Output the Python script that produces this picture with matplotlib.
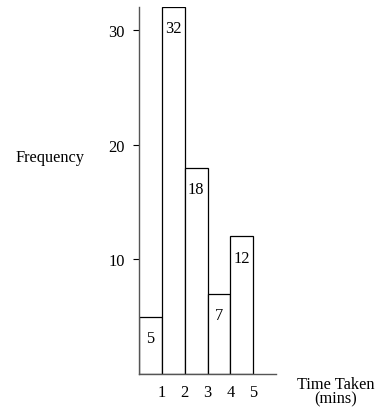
import matplotlib
matplotlib.use("Agg")
import matplotlib.pyplot as plt

# class intervals (minutes) and frequencies
bin_left = [0, 1, 2, 3, 4]
bin_width = [1, 1, 1, 1, 1]
freq = [5, 32, 18, 7, 12]
x_ticks = [1, 2, 3, 4, 5]
y_ticks = [10, 20, 30]

plt.rcParams['font.family'] = ['Liberation Serif', 'DejaVu Serif']
fs = 11.8

fig = plt.figure(figsize=(3.76, 4.10), dpi=100)
ax = fig.add_axes([139 / 376, 35 / 410, 137 / 376, 367 / 410])

ax.bar(bin_left, freq, width=bin_width, align='edge',
       facecolor='white', edgecolor='black', linewidth=0.9)

for x, w, f in zip(bin_left, bin_width, freq):
    ax.text(x + w / 2, f - 1.85, str(f), ha='center', va='center', fontsize=fs)

ax.set_xlim(0, 6)
ax.set_ylim(0, 32)
ax.spines['top'].set_visible(False)
ax.spines['right'].set_visible(False)
for s in ('left', 'bottom'):
    ax.spines[s].set_color('#555555')
    ax.spines[s].set_linewidth(1.0)

ax.set_xticks(x_ticks)
ax.set_xticklabels([str(t) for t in x_ticks], fontsize=fs)
ax.tick_params(axis='x', length=0, pad=7)
ax.set_yticks(y_ticks)
ax.set_yticklabels([str(t) for t in y_ticks], fontsize=fs)
ax.tick_params(axis='y', length=4, width=0.8, pad=6)

fig.text(50 / 376, 1 - 158 / 410, 'Frequency', ha='center', va='center', fontsize=fs)
fig.text(336 / 376, 1 - 392 / 410, 'Time Taken\n(mins)', ha='center', va='center',
         fontsize=fs, linespacing=0.9)

fig.savefig('out.png', dpi=100)
